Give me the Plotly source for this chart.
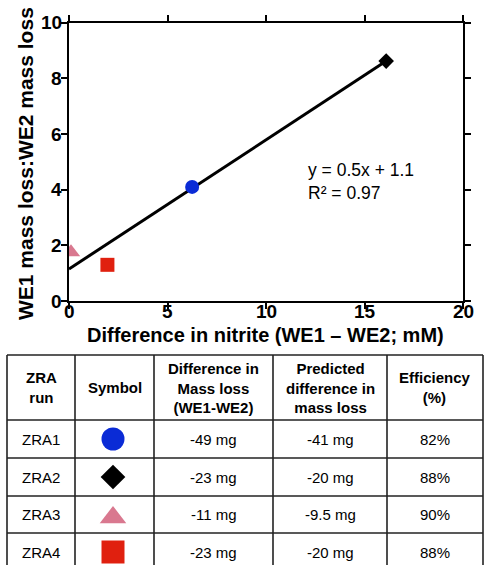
import plotly.graph_objects as go

# ---------------- data ----------------
runs = ["ZRA1", "ZRA2", "ZRA3", "ZRA4"]
nitrite_diff = [6.25, 16.1, 0.1, 1.95]          # x (mM)
mass_ratio = [4.1, 8.62, 1.75, 1.3]              # y
symbols = ["circle", "diamond", "triangle-up", "square"]
colors = ["#0a2bd6", "#000000", "#d9788f", "#e0200f"]
fit_x = [0, 16.1]
fit_y = [1.15, 8.62]
mass_loss_diff = ["-49 mg", "-23 mg", "-11 mg", "-23 mg"]
predicted_diff = ["-41 mg", "-20 mg", "-9.5 mg", "-20 mg"]
efficiency = ["82%", "88%", "90%", "88%"]
headers = ["ZRA<br>run", "Symbol", "Difference in<br>Mass loss<br>(WE1-WE2)",
           "Predicted<br>difference in<br>mass loss", "Efficiency<br>(%)"]
x_ticks = [0, 5, 10, 15, 20]
y_ticks = [0, 2, 4, 6, 8, 10]
x_range = [0, 20]
y_range = [0, 10]

W, H = 484, 565
FONT = "Arial, Liberation Sans, sans-serif"

# plot area in pixels
PX0, PX1 = 69, 463
PY_TOP, PY_BOT = 22.7, 301
TABLE_TOP = 350

def px(x):
    return x / W

def py(y):
    return 1 - y / H

fig = go.Figure()

# fit line
fig.add_trace(go.Scatter(x=fit_x, y=fit_y, mode="lines",
                         line=dict(color="black", width=3), showlegend=False,
                         hoverinfo="skip"))
# points
plot_sizes = {"circle": 14, "diamond": 12, "triangle-up": 16, "square": 14}
for i in range(len(runs)):
    fig.add_trace(go.Scatter(x=[nitrite_diff[i]], y=[mass_ratio[i]], mode="markers",
                             marker=dict(symbol=symbols[i], size=plot_sizes[symbols[i]],
                                         color=colors[i], line=dict(width=0)),
                             showlegend=False, name=runs[i]))

axis_common = dict(showgrid=False, zeroline=False, showline=True, linecolor="black",
                   linewidth=2, mirror="ticks", ticks="outside", ticklen=6,
                   tickwidth=2, tickcolor="black", automargin=False,
                   showticklabels=False)

fig.update_layout(
    width=W, height=H, margin=dict(l=0, r=0, t=0, b=0, pad=0, autoexpand=False),
    paper_bgcolor="white", plot_bgcolor="rgba(0,0,0,0)",
    xaxis=dict(domain=[px(PX0), px(PX1)], range=x_range, tickvals=x_ticks,
               anchor="y", **axis_common),
    yaxis=dict(domain=[py(PY_BOT), py(PY_TOP)], range=y_range, tickvals=y_ticks,
               anchor="x", **axis_common),
    xaxis2=dict(domain=[0, 1], range=[0, W], visible=False, anchor="y2", automargin=False),
    yaxis2=dict(domain=[0, py(TABLE_TOP)], range=[H, TABLE_TOP], visible=False,
                anchor="x2", automargin=False),
)

annotations = []
tick_font = dict(family=FONT, size=19, color="black")
# tick labels (placed at data values via the axes)
for t in x_ticks:
    annotations.append(dict(text="<b>%d</b>" % t, x=t, y=py(PY_BOT - 1), xref="x",
                            yref="paper", showarrow=False, xanchor="center",
                            yanchor="top", font=tick_font, borderpad=0))
for t in y_ticks:
    annotations.append(dict(text="<b>%d</b>" % t, x=px(PX0 - 6), y=t, xref="paper",
                            yref="y", showarrow=False, xanchor="right",
                            yanchor="middle", font=tick_font, borderpad=0))
# axis titles
annotations.append(dict(text="<b>Difference in nitrite (WE1 \u2013 WE2; mM)</b>",
                        x=px(265), y=py(335), xref="paper", yref="paper",
                        showarrow=False, xanchor="center", yanchor="middle",
                        font=dict(family=FONT, size=20, color="black")))
annotations.append(dict(text="<b>WE1 mass loss:WE2 mass loss</b>",
                        x=px(25), y=py(164), xref="paper", yref="paper",
                        showarrow=False, xanchor="center", yanchor="middle", textangle=-90,
                        font=dict(family=FONT, size=21, color="black")))
# equation
annotations.append(dict(text="y = 0.5x + 1.1<br>R\u00b2 = 0.97",
                        x=px(306), y=py(181), xref="paper", yref="paper",
                        showarrow=False, xanchor="left", yanchor="middle", align="left",
                        font=dict(family=FONT, size=17.5, color="black")))

# ---------------- table ----------------
col_edges = [7, 75, 154, 273, 387, 483]
row_edges = [355, 420, 458, 496, 533, 571]
shapes = []
for xe in col_edges:
    shapes.append(dict(type="line", xref="x2", yref="y2", x0=xe, x1=xe,
                       y0=row_edges[0], y1=row_edges[-1],
                       line=dict(color="#222222", width=1.6)))
for ye in row_edges:
    shapes.append(dict(type="line", xref="x2", yref="y2", x0=col_edges[0], x1=col_edges[-1],
                       y0=ye, y1=ye, line=dict(color="#222222", width=1.6)))

col_centers = [(col_edges[i] + col_edges[i + 1]) / 2 for i in range(len(col_edges) - 1)]
row_centers = [(row_edges[i] + row_edges[i + 1]) / 2 for i in range(len(row_edges) - 1)]

for j, htxt in enumerate(headers):
    annotations.append(dict(text="<b>" + htxt + "</b>", x=col_centers[j], y=row_centers[0],
                            xref="x2", yref="y2", showarrow=False, align="center",
                            xanchor="center", yanchor="middle",
                            font=dict(family=FONT, size=15, color="black")))
body_cols = [runs, None, mass_loss_diff, predicted_diff, efficiency]
for j, col in enumerate(body_cols):
    if col is None:
        continue
    for i, val in enumerate(col):
        annotations.append(dict(text=val, x=col_centers[j], y=row_centers[i + 1],
                                xref="x2", yref="y2", showarrow=False,
                                xanchor="center", yanchor="middle",
                                font=dict(family=FONT, size=15, color="black")))

# symbols in table
table_sizes = {"circle": 23, "diamond": 19, "triangle-up": 23, "square": 23}
for i in range(len(runs)):
    yoff = 3 if symbols[i] == "triangle-up" else 0
    fig.add_trace(go.Scatter(x=[col_centers[1] - 1.5], y=[row_centers[i + 1] + yoff],
                             xaxis="x2", yaxis="y2", mode="markers",
                             marker=dict(symbol=symbols[i], size=table_sizes[symbols[i]],
                                         color=colors[i], line=dict(width=0)),
                             showlegend=False, hoverinfo="skip"))

fig.update_layout(annotations=annotations, shapes=shapes)
fig.write_html("out.html")
